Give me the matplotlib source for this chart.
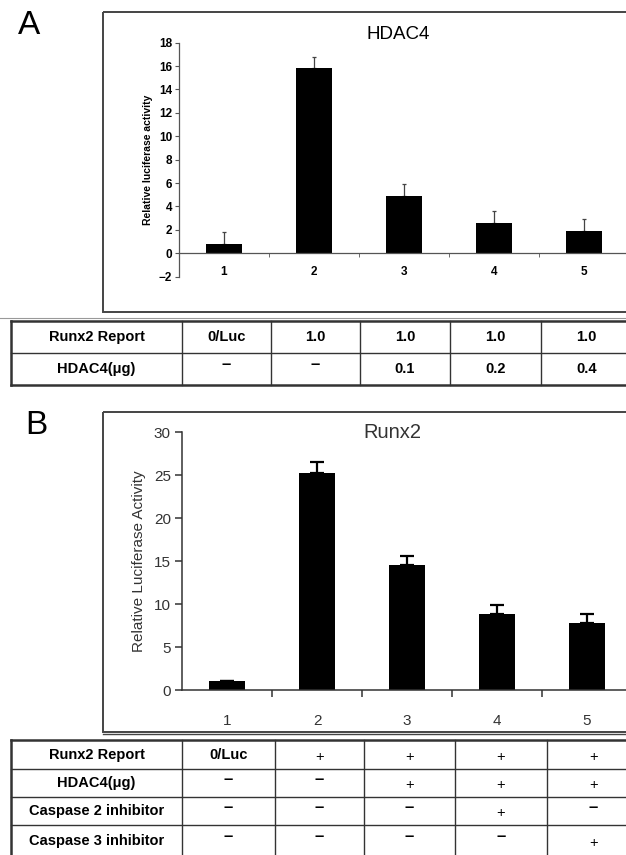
import matplotlib
matplotlib.use('Agg')
import matplotlib.pyplot as plt
from matplotlib.patches import Rectangle

plt.rcParams['font.family'] = ['Liberation Sans', 'DejaVu Sans']

# lanes shared by both panels
lanes = ['1', '2', '3', '4', '5']

# panel A: HDAC4
hdac4_vals = [0.8, 15.8, 4.9, 2.6, 1.9]
hdac4_err = [1.0, 1.0, 1.0, 1.0, 1.0]
hdac4_rows = ['Runx2 Report', 'HDAC4(μg)']
hdac4_cells = [['0/Luc', '1.0', '1.0', '1.0', '1.0'],
               ['–', '–', '0.1', '0.2', '0.4']]

# panel B: Runx2
runx2_vals = [1.0, 25.3, 14.6, 8.9, 7.8]
runx2_err = [0.0, 1.3, 1.0, 1.0, 1.0]
runx2_rows = ['Runx2 Report', 'HDAC4(μg)', 'Caspase 2 inhibitor', 'Caspase 3 inhibitor']
runx2_cells = [['0/Luc', '+', '+', '+', '+'],
               ['–', '–', '+', '+', '+'],
               ['–', '–', '–', '+', '–'],
               ['–', '–', '–', '–', '+']]

W, H = 626, 855
fig = plt.figure(figsize=(W / 100, H / 100), dpi=100)


def px_axes(l, t, r, b):
    return fig.add_axes([l / W, 1 - b / H, (r - l) / W, (b - t) / H])


# overlay in pixel coordinates for boxes, tables, panel letters
bg = fig.add_axes([0, 0, 1, 1])
bg.set_xlim(0, W)
bg.set_ylim(H, 0)
bg.axis('off')

line_col = '#333333'

# panel frames
bg.add_patch(Rectangle((103, 12), 560, 300, fill=False, lw=1.4, ec='#444444'))
bg.add_patch(Rectangle((103, 411.7), 560, 320, fill=False, lw=1.4, ec='#444444'))
bg.plot([0, W], [318, 318], color='#999999', lw=0.8)
bg.plot([103, W], [734, 734], color='#444444', lw=1.0)

bg.text(29, 25, 'A', fontsize=24, ha='center', va='center')
bg.text(36, 425, 'B', fontsize=24, ha='center', va='center')


def draw_table(row_edges, col_edges, row_names, cells, bottom_closed):
    top, bot = row_edges[0], row_edges[-1]
    left, right = col_edges[0], col_edges[-1]
    for i, y in enumerate(row_edges):
        outer = i == 0 or (i == len(row_edges) - 1 and bottom_closed)
        if i == len(row_edges) - 1 and not bottom_closed:
            continue
        bg.plot([left, right], [y, y], color=line_col, lw=1.8 if outer else 1.0)
    for j, x in enumerate(col_edges):
        bg.plot([x, x], [top, bot], color=line_col, lw=1.8 if j == 0 else 1.0)
    for i, name in enumerate(row_names):
        yc = (row_edges[i] + row_edges[i + 1]) / 2
        bg.text((col_edges[0] + col_edges[1]) / 2, yc, name, fontsize=10.5,
                fontweight='bold', ha='center', va='center')
        for j, val in enumerate(cells[i]):
            xc = (col_edges[j + 1] + col_edges[j + 2]) / 2
            if val == '–':
                bg.text(xc, yc - 4, val, fontsize=12, fontweight='bold',
                        ha='center', va='center')
            elif val == '+':
                bg.text(xc, yc + 2, val, fontsize=10.5, ha='center', va='center')
            else:
                bg.text(xc, yc, val, fontsize=10.5, fontweight='bold',
                        ha='center', va='center')


draw_table([320.7, 352.7, 385], [11, 182, 271, 360, 450, 541, 632],
           hdac4_rows, hdac4_cells, True)
draw_table([740, 769, 797, 825, 856], [11, 182, 275, 364, 455, 547, 640],
           runx2_rows, runx2_cells, False)

x = list(range(1, len(lanes) + 1))

# ---- panel A ----
axA = px_axes(179, 42.7, 629, 276.7)
axA.set_facecolor('none')
axA.bar(x, hdac4_vals, width=0.4, color='black', zorder=2)
axA.errorbar(x, hdac4_vals, yerr=[[0] * 5, hdac4_err], fmt='none',
             ecolor='#444444', elinewidth=0.9, capsize=1.2, capthick=0.9, zorder=1)
axA.set_xlim(0.5, 5.5)
axA.set_ylim(-2, 18)
axA.set_yticks(range(-2, 19, 2))
axA.spines['top'].set_visible(False)
axA.spines['right'].set_visible(False)
axA.spines['bottom'].set_position(('data', 0))
for s in ('left', 'bottom'):
    axA.spines[s].set_color('#555555')
    axA.spines[s].set_linewidth(0.9)
axA.set_xticks(x)
axA.set_xticklabels(lanes)
axA.set_xticks([1.5, 2.5, 3.5, 4.5], minor=True)
axA.tick_params(axis='x', which='major', length=0, pad=9, labelsize=8.5)
axA.tick_params(axis='x', which='minor', length=3, color='#555555', direction='out')
axA.tick_params(axis='y', length=3, color='#555555', labelsize=8.5, pad=2)
for lab in axA.get_xticklabels() + axA.get_yticklabels():
    lab.set_fontweight('bold')
axA.set_ylabel('Relative luciferase activity', fontsize=7.5, fontweight='bold', labelpad=4)
axA.text(0.487, 1.035, 'HDAC4', transform=axA.transAxes, fontsize=13.5,
         ha='center', va='center')

# ---- panel B ----
axB = px_axes(182, 432.3, 632, 690)
axB.set_facecolor('none')
axB.bar(x, runx2_vals, width=0.41, color='black', zorder=2)
axB.errorbar(x, runx2_vals, yerr=[[0] * 5, runx2_err], fmt='none',
             ecolor='black', elinewidth=1.6, capsize=5, capthick=1.6, zorder=1)
axB.set_xlim(0.5, 5.5)
axB.set_ylim(0, 30)
axB.set_yticks(range(0, 31, 5))
axB.spines['top'].set_visible(False)
axB.spines['right'].set_visible(False)
for s in ('left', 'bottom'):
    axB.spines[s].set_color('#333333')
    axB.spines[s].set_linewidth(1.1)
axB.set_xticks(x)
axB.set_xticklabels(lanes)
axB.set_xticks([1.5, 2.5, 3.5, 4.5], minor=True)
axB.tick_params(axis='x', which='major', length=0, pad=17, labelsize=11, labelcolor='#333333')
axB.tick_params(axis='x', which='minor', length=5, width=1.1, color='#333333', direction='out')
axB.tick_params(axis='y', length=5, width=1.1, color='#333333', labelsize=11,
                labelcolor='#333333', pad=3)
axB.set_ylabel('Relative Luciferase Activity', fontsize=11, color='#333333', labelpad=6)
axB.text(0.468, 1.0, 'Runx2', transform=axB.transAxes, fontsize=14.5,
         color='#333333', ha='center', va='center')

fig.savefig('out.png', dpi=100)
